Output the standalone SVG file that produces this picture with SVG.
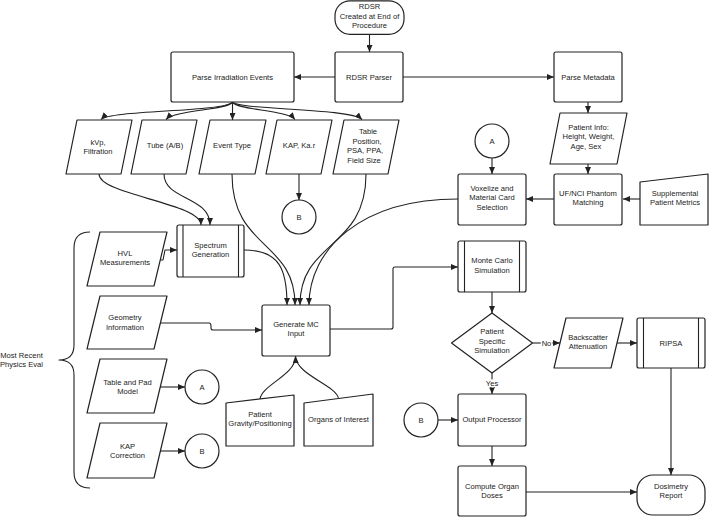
<svg xmlns="http://www.w3.org/2000/svg" width="709" height="518" viewBox="0 0 709 518">
<style>
.s{fill:#fff;stroke:#222;stroke-width:1.2;stroke-linejoin:round}
.l{fill:none;stroke:#222;stroke-width:1.1;stroke-linejoin:round}
.a{marker-end:url(#ah)}
text{font-family:"Liberation Sans",Arial,sans-serif;font-size:7.6px;fill:#222;text-anchor:middle}
.lb{stroke:#fff;stroke-width:3;paint-order:stroke}
</style>
<defs>
<marker id="ah" markerUnits="userSpaceOnUse" markerWidth="7" markerHeight="6" refX="7" refY="3" orient="auto">
<path d="M0,0 L7,3 L0,6 z" fill="#222"/>
</marker>
</defs>
<rect width="709" height="518" fill="#fff"/>

<g id="connectors">
<path class="l a" d="M369.5,34 L369.5,52"/>
<path class="l a" d="M335,77 L294,77"/>
<path class="l a" d="M403,77 L554,77"/>
<path class="l a" d="M232.5,102 C225,112 110,110 101,119.5"/>
<path class="l a" d="M232.5,102 C229,110 175,110 166,119.5"/>
<path class="l a" d="M232.5,102 L232.5,120"/>
<path class="l a" d="M232.5,102 C236,110 287,110 295,119.5"/>
<path class="l a" d="M232.5,102 C238,110 350,108 362,119.5"/>
<path class="l a" d="M588,102 L588,113"/>
<path class="l a" d="M588,164 L588,174"/>
<path class="l a" d="M492,158 L492,174"/>
<path class="l a" d="M554,199 L526,199"/>
<path class="l a" d="M640,199 L623,199"/>
<path class="l a" d="M299,174 L299,200"/>
<path class="l a" d="M99,174 C99,195 201,203 201,225"/>
<path class="l a" d="M164,174 C164,200 210,196 210,225"/>
<path class="l a" d="M158,260 L163,260 L165,250 L177,250"/>
<path class="l a" d="M244,250 C280,250 287,270 287,305"/>
<path class="l a" d="M232,174 C232,250 295,240 295,305"/>
<path class="l a" d="M366,174 C366,250 300,240 300,305"/>
<path class="l a" d="M458,199 C360,199 309,250 309,305"/>
<path class="l a" d="M160,323 L209,323 Q211,323 211,326 L211,328 Q211,330 213,330 L262,330"/>
<path class="l a" d="M330,329 L391,329 Q393,329 393,327 L393,269 Q393,267 395,267 L458,267"/>
<path class="l" d="M260,399 C262,385 295,375 295.5,357"/>
<path class="l a" d="M338.5,398.5 C336,385 296,375 295.5,356"/>
<path class="l a" d="M492,292 L492,313"/>
<path class="l a" d="M532.5,343 L560,343"/>
<text class="lb" x="546.5" y="345.5">No</text>
<path class="l a" d="M617,343 L637,343"/>
<path class="l a" d="M492,373 L492,394"/>
<text class="lb" x="492" y="386">Yes</text>
<path class="l a" d="M671,368 L671,475"/>
<path class="l a" d="M438,420 L458,420"/>
<path class="l a" d="M492,446 L492,466"/>
<path class="l a" d="M526,492 L637,492"/>
<path class="l a" d="M159,387 L185,387"/>
<path class="l a" d="M159,451 L185,451"/>
</g>

<g id="rdsr"><rect class="s" x="335" y="0.8" width="69" height="33.5" rx="15"/><text x="369.5" y="9.4">RDSR</text><text x="369.5" y="18.7">Created at End of</text><text x="369.5" y="28.4">Procedure</text></g>
<g id="parse-irr"><rect class="s" x="171" y="52" width="123" height="50" rx="2"/><text x="232.5" y="80">Parse Irradiation Events</text></g>
<g id="rdsr-parser"><rect class="s" x="335" y="52" width="68" height="50" rx="2"/><text x="369" y="80">RDSR Parser</text></g>
<g id="parse-meta"><rect class="s" x="554" y="52" width="68" height="50" rx="2"/><text x="588" y="80">Parse Metadata</text></g>

<g id="kvp"><polygon class="s" points="77,120 132,120 121,174 66,174"/><text x="98" y="145">kVp,</text><text x="98" y="153.7">Filtration</text></g>
<g id="tube"><polygon class="s" points="142,120 197,120 186,174 131,174"/><text x="165" y="148">Tube (A/B)</text></g>
<g id="event"><polygon class="s" points="210,120 266,120 255,174 199,174"/><text x="232" y="148">Event Type</text></g>
<g id="kap"><polygon class="s" points="277,120 332,120 321,174 266,174"/><text x="299" y="148">KAP, Ka.r</text></g>
<g id="table-pos"><polygon class="s" points="344,120 399,120 388,174 333,174"/><text x="368" y="134.4">Table</text><text x="367" y="143.8">Position,</text><text x="365" y="153.2">PSA, PPA,</text><text x="364" y="162.6">Field Size</text></g>

<g id="patient-info"><polygon class="s" points="560,113 627,113 617,164 550,164"/><text x="588.5" y="130">Patient Info:</text><text x="588.5" y="139.4">Height, Weight,</text><text x="586" y="148.6">Age, Sex</text></g>
<g id="circle-a-top"><circle class="s" cx="492" cy="141" r="17"/><text x="492" y="143.7">A</text></g>
<g id="voxelize"><rect class="s" x="458" y="174" width="68" height="51" rx="2"/><text x="492" y="191">Voxelize and</text><text x="492" y="200.4">Material Card</text><text x="492" y="209.7">Selection</text></g>
<g id="phantom"><rect class="s" x="554" y="174" width="68" height="51" rx="2"/><text x="588" y="196">UF/NCI Phantom</text><text x="588" y="205.4">Matching</text></g>
<g id="supplemental"><path class="s" d="M640,182 L708,174 L708,225 L640,225 Z"/><text x="675" y="196">Supplemental</text><text x="675" y="205.4">Patient Metrics</text></g>
<g id="circle-b-top"><circle class="s" cx="299" cy="217" r="17"/><text x="299" y="220">B</text></g>

<g id="spectrum"><rect class="s" x="177" y="225" width="67" height="52" rx="2"/><path class="l" d="M183,225 L183,277 M238.5,225 L238.5,277"/><text x="210.5" y="247.7">Spectrum</text><text x="210.5" y="256.7">Generation</text></g>
<g id="hvl"><polygon class="s" points="100,232 167,232 154,286 87,286"/><text x="125" y="256">HVL</text><text x="125" y="265.4">Measurements</text></g>
<g id="geometry"><polygon class="s" points="100,296 167,296 154,349 87,349"/><text x="125" y="320.4">Geometry</text><text x="125" y="330">Information</text></g>
<g id="generate"><rect class="s" x="262" y="305" width="68" height="51" rx="2"/><text x="296" y="327">Generate MC</text><text x="296" y="336">Input</text></g>
<g id="monte-carlo"><rect class="s" x="458" y="241" width="68" height="51" rx="2"/><path class="l" d="M464.5,241 L464.5,292 M519.5,241 L519.5,292"/><text x="492" y="263.4">Monte Carlo</text><text x="492" y="272.7">Simulation</text></g>
<g id="decision"><polygon class="s" points="492,313 532.5,343 492,373 451.5,343"/><text x="492" y="334.4">Patient</text><text x="492" y="343.7">Specific</text><text x="492" y="352.7">Simulation</text></g>
<g id="backscatter"><polygon class="s" points="566,318 623,318 611,368 554,368"/><text x="588" y="340">Backscatter</text><text x="588" y="349.4">Attenuation</text></g>
<g id="ripsa"><rect class="s" x="637" y="318" width="68" height="50" rx="2"/><path class="l" d="M643.5,318 L643.5,368 M698.5,318 L698.5,368"/><text x="671" y="345.7">RIPSA</text></g>

<g id="brace"><path class="l" d="M90,232 Q74,232 74,248 L74,345 Q74,360 59,360 Q74,360 74,375 L74,472 Q74,488 90,488"/><text x="21.5" y="358.4">Most Recent</text><text x="21.5" y="367.4">Physics Eval</text></g>
<g id="table-pad"><polygon class="s" points="100,359 167,359 154,413 87,413"/><text x="127.5" y="385">Table and Pad</text><text x="127.5" y="393.7">Model</text></g>
<g id="circle-a-left"><circle class="s" cx="202" cy="387" r="17"/><text x="202" y="389.7">A</text></g>
<g id="kap-corr"><polygon class="s" points="100,423 167,423 154,478 87,478"/><text x="127.5" y="448.7">KAP</text><text x="127.5" y="458">Correction</text></g>
<g id="circle-b-left"><circle class="s" cx="202" cy="451" r="17"/><text x="202" y="453.7">B</text></g>

<g id="gravity"><path class="s" d="M226,403 L294,395 L294,446 L226,446 Z"/><text x="260" y="416.7">Patient</text><text x="260" y="426">Gravity/Positioning</text></g>
<g id="organs"><path class="s" d="M304,403 L373,394 L373,446 L304,446 Z"/><text x="338.5" y="421.7">Organs of Interest</text></g>

<g id="circle-b-right"><circle class="s" cx="421" cy="420" r="17"/><text x="421" y="422.7">B</text></g>
<g id="output"><rect class="s" x="458" y="394" width="68" height="52" rx="2"/><text x="492" y="421.7">Output Processor</text></g>
<g id="compute"><rect class="s" x="458" y="466" width="68" height="50" rx="2"/><text x="492" y="488.7">Compute Organ</text><text x="492" y="497.7">Doses</text></g>
<g id="dosimetry"><rect class="s" x="637" y="475" width="68" height="40" rx="16"/><text x="671" y="488.7">Dosimetry</text><text x="671" y="497.7">Report</text></g>
</svg>
